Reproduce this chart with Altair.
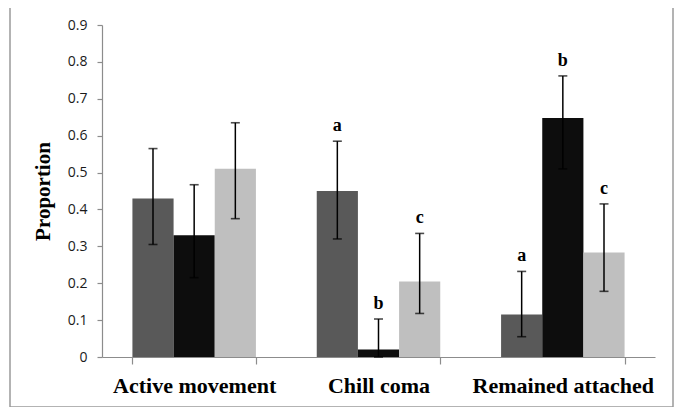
import altair as alt
import pandas as pd

categories = ["Active movement", "Chill coma", "Remained attached"]
series = ["S1", "S2", "S3"]
colors = ["#595959", "#0d0d0d", "#bfbfbf"]

values = [[0.43, 0.33, 0.51], [0.45, 0.02, 0.205], [0.115, 0.648, 0.283]]
err_low = [[0.305, 0.215, 0.375], [0.32, 0.0, 0.118], [0.055, 0.51, 0.178]]
err_high = [[0.565, 0.467, 0.635], [0.585, 0.103, 0.335], [0.232, 0.762, 0.415]]
letters = [["", "", ""], ["a", "b", "c"], ["a", "b", "c"]]
y_ticks = [0, 0.1, 0.2, 0.3, 0.4, 0.5, 0.6, 0.7, 0.8, 0.9]

rows = []
for i, c in enumerate(categories):
    for j, s in enumerate(series):
        rows.append(dict(cat=c, ser=s, val=values[i][j], lo=err_low[i][j],
                         hi=err_high[i][j], letter=letters[i][j]))
df = pd.DataFrame(rows)

xscale = alt.Scale(paddingInner=0.33, paddingOuter=0.165)
xaxis = alt.Axis(labelAngle=0, labelFont="Liberation Serif", labelFontWeight="bold",
                 labelFontSize=22, labelColor="#000", labelPadding=11, labelLimit=400,
                 tickBand="extent", tickSize=7, tickColor="#8c8c8c",
                 domainColor="#8c8c8c", domainWidth=1.2, tickWidth=1.2)
xenc = alt.X("cat:N", sort=categories, title=None, scale=xscale, axis=xaxis)
xoff = alt.XOffset("ser:N", sort=series, scale=alt.Scale(paddingInner=0, paddingOuter=0))
yscale = alt.Scale(domain=[0, 0.9], nice=False)
yaxis = alt.Axis(values=y_ticks, format=".1~f", grid=False, tickSize=5,
                 tickColor="#8c8c8c", domainColor="#8c8c8c", domainWidth=1.2,
                 tickWidth=1.2, labelOverlap=False,
                 labelFont="Open Sans", labelFontSize=14, labelColor="#1a1a1a",
                 labelPadding=10, titleFont="Liberation Serif", titleFontSize=21,
                 titleFontWeight="bold", titleColor="#000", titlePadding=14)


def yenc(field):
    return alt.Y(field, scale=yscale, title="Proportion", axis=yaxis)


base = alt.Chart(df)

bars = base.mark_bar().encode(
    x=xenc, xOffset=xoff, y=yenc("val:Q"),
    color=alt.Color("ser:N", sort=series, scale=alt.Scale(domain=series, range=colors), legend=None),
)

rules = base.mark_rule(color="#000", strokeWidth=1.5).encode(
    x=xenc, xOffset=xoff, y=yenc("lo:Q"), y2="hi:Q")

caps_hi = base.mark_tick(color="#000", size=9, thickness=1.6).encode(
    x=xenc, xOffset=xoff, y=yenc("hi:Q"))
caps_lo = base.mark_tick(color="#000", size=9, thickness=1.6).encode(
    x=xenc, xOffset=xoff, y=yenc("lo:Q"))

text = base.transform_filter("datum.letter != ''").mark_text(
    font="Liberation Serif", fontWeight="bold", fontSize=18, baseline="bottom", dy=-6, color="#000"
).encode(x=xenc, xOffset=xoff, y=yenc("hi:Q"), text="letter:N")

frame = alt.Chart(pd.DataFrame({"k": [0]})).mark_rect(
    fill="transparent", stroke="#9a9a9a", strokeWidth=1.5
).encode(x=alt.value(-92), x2=alt.value(571), y=alt.value(-18), y2=alt.value(382))

chart = alt.layer(frame, bars, rules, caps_hi, caps_lo, text).properties(
    width=553, height=332,
    autosize=alt.AutoSizeParams(type="none"),
    padding={"left": 94, "top": 17, "right": 20, "bottom": 50},
).configure_view(stroke=None)

chart.save("out.html", embed_options={"renderer": "svg", "actions": False})
